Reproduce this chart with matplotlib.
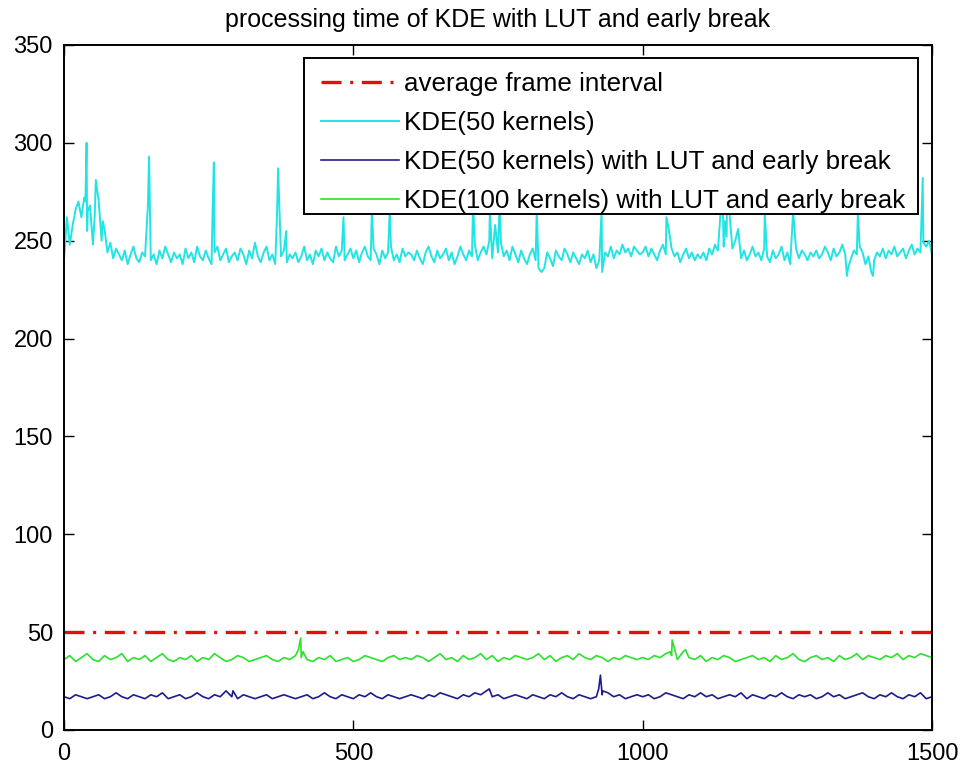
import numpy as np
import matplotlib
matplotlib.use("Agg")
import matplotlib.pyplot as plt
from matplotlib.patches import Rectangle

plt.rcParams['font.family'] = ['Liberation Sans', 'DejaVu Sans']

# ---- data (processing time per frame, ms) ----
frame_interval = 50

# KDE (50 kernels), sampled every 5 frames (0..1500)
kde50_base = [
    240, 262, 248, 258, 266, 270, 262, 272, 255, 268, 248, 262, 270, 250, 256, 244, 249, 241, 246, 243,
    240, 245, 238, 243, 247, 241, 239, 244, 242, 246, 240, 243, 238, 245, 241, 247, 243, 239, 244, 241,
    243, 238, 246, 241, 244, 239, 247, 242, 240, 245, 241, 238, 244, 247, 240, 243, 246, 239, 242, 244,
    240, 246, 243, 238, 245, 241, 249, 242, 239, 244, 247, 240, 243, 238, 246, 242, 245, 239, 243, 241,
    244, 239, 242, 247, 240, 243, 238, 245, 242, 246, 240, 244, 241, 239, 247, 242, 245, 240, 243, 246,
    241, 245, 239, 244, 247, 242, 240, 246, 243, 238, 245, 241, 244, 247, 240, 243, 239, 246, 242, 244,
    243, 240, 245, 241, 238, 244, 247, 242, 239, 245, 241, 243, 246, 240, 244, 238, 242, 247, 243, 240,
    245, 242, 248, 240, 244, 247, 243, 250, 241, 246, 244, 249, 242, 245, 240, 247, 243, 239, 245, 241,
    238, 243, 246, 240, 236, 234, 236, 244, 241, 237, 245, 242, 240, 246, 243, 239, 244, 241, 238, 243,
    241, 245, 239, 243, 236, 240, 234, 244, 242, 247, 241, 245, 243, 248, 244, 246, 242, 247, 245, 243,
    244, 247, 242, 246, 243, 240, 245, 248, 243, 241, 246, 242, 244, 239, 243, 246, 241, 244, 240, 243,
    241, 244, 240, 246, 243, 248, 245, 250, 247, 252, 249, 246, 250, 244, 241, 245, 240, 243, 247, 242,
    244, 240, 246, 242, 239, 245, 241, 243, 247, 240, 244, 238, 242, 246, 241, 245, 243, 240, 244, 242,
    245, 241, 243, 247, 244, 240, 246, 242, 244, 248, 243, 236, 241, 245, 243, 247, 244, 238, 242, 234,
    240, 244, 242, 246, 241, 245, 243, 247, 242, 244, 246, 241, 245, 248, 243, 246, 244, 249, 247, 250,
    243,
]
kde50_peak_frames = [37, 39, 41, 53, 55, 67, 145, 147, 257, 259, 368, 370, 384, 483, 532, 563,
                     707, 736, 745, 753, 817, 929, 1041, 1045, 1135, 1138, 1142, 1146, 1150,
                     1165, 1211, 1260, 1353, 1372, 1398, 1484]
kde50_peak_values = [270, 300, 265, 262, 281, 260, 268, 293, 268, 290, 262, 287, 255, 262, 266, 266,
                     270, 266, 258, 272, 266, 265, 262, 256, 266, 274, 260, 270, 264,
                     256, 264, 265, 232, 265, 232, 282]

# KDE (50 kernels) with LUT and early break, sampled every 10 frames
lut50_base = [
    17, 16, 18, 17, 16, 17, 18, 16, 17, 19, 17, 16, 18, 17, 16, 18, 17, 19, 16, 17,
    18, 16, 17, 19, 17, 16, 18, 17, 20, 17, 16, 18, 17, 16, 17, 18, 16, 17, 18, 17,
    16, 17, 18, 16, 17, 19, 17, 16, 18, 17, 16, 18, 17, 19, 17, 16, 18, 17, 16, 17,
    18, 17, 16, 18, 17, 19, 18, 17, 16, 18, 17, 19, 18, 20, 17, 18, 16, 17, 18, 17,
    16, 18, 17, 16, 18, 17, 19, 17, 16, 18, 17, 16, 17, 18, 19, 17, 18, 16, 17, 18,
    17, 18, 16, 17, 19, 18, 17, 16, 18, 17, 19, 17, 18, 16, 17, 18, 17, 19, 16, 18,
    17, 16, 18, 17, 19, 17, 16, 18, 17, 18, 16, 17, 19, 17, 18, 16, 17, 18, 19, 17,
    16, 18, 17, 19, 17, 16, 18, 17, 19, 16, 17,
]
lut50_peak_frames = [292, 735, 924, 927, 931]
lut50_peak_values = [20, 21, 21, 28, 20]

# KDE (100 kernels) with LUT and early break, sampled every 10 frames
lut100_base = [
    36, 38, 35, 37, 39, 36, 35, 38, 36, 37, 39, 35, 37, 36, 38, 35, 37, 39, 36, 35,
    37, 36, 38, 35, 37, 36, 39, 37, 35, 36, 38, 37, 35, 36, 37, 38, 36, 35, 37, 36,
    38, 37, 36, 35, 37, 36, 38, 35, 36, 37, 35, 36, 38, 37, 36, 35, 37, 38, 36, 37,
    36, 38, 37, 35, 37, 39, 36, 37, 35, 38, 36, 37, 39, 36, 38, 35, 37, 36, 38, 37,
    36, 37, 39, 36, 38, 35, 37, 38, 36, 39, 37, 36, 38, 37, 35, 37, 36, 38, 37, 36,
    37, 36, 38, 37, 39, 38, 36, 40, 37, 36, 38, 35, 37, 36, 38, 37, 35, 36, 37, 38,
    36, 37, 35, 38, 36, 37, 39, 36, 35, 37, 38, 36, 37, 35, 38, 36, 37, 39, 36, 38,
    37, 36, 38, 37, 39, 36, 38, 37, 39, 38, 37,
]
lut100_peak_frames = [405, 409, 413, 1048, 1051, 1074]
lut100_peak_values = [41, 47, 40, 40, 46, 41]

labels = ['average frame interval', 'KDE(50 kernels)',
          'KDE(50 kernels) with LUT and early break',
          'KDE(100 kernels) with LUT and early break']
title = 'processing time of KDE with LUT and early break'
x_ticks = [0, 500, 1000, 1500]
y_ticks = [0, 50, 100, 150, 200, 250, 300, 350]


def with_peaks(step, base, peak_frames, peak_values):
    """Merge regularly sampled frames with isolated peak frames."""
    pts = dict(zip(range(0, step * len(base), step), base))
    pts.update(zip(peak_frames, peak_values))
    frames = sorted(pts)
    return np.array(frames), np.array([pts[f] for f in frames], dtype=float)


x_c, y_c = with_peaks(5, kde50_base, kde50_peak_frames, kde50_peak_values)
x_b, y_b = with_peaks(10, lut50_base, lut50_peak_frames, lut50_peak_values)
x_g, y_g = with_peaks(10, lut100_base, lut100_peak_frames, lut100_peak_values)

# ---- figure ----
fig = plt.figure(figsize=(9.64, 7.67), dpi=100)
ax = fig.add_axes([64 / 964, 37 / 767, 868 / 964, 685 / 767])

ax.plot([x_ticks[0], x_ticks[-1]], [frame_interval, frame_interval], color='#dd1111',
        lw=2.4, linestyle=(0, (6, 2.6, 0.9, 2.6)), label=labels[0])
ax.plot(x_c, y_c, color='#22e4e4', lw=1.4, label=labels[1])
ax.plot(x_b, y_b, color='#1c1c8c', lw=1.2, label=labels[2])
ax.plot(x_g, y_g, color='#2ee02e', lw=1.2, label=labels[3])

ax.set_xlim(0, 1500)
ax.set_ylim(0, 350)
ax.set_xticks(x_ticks)
ax.set_yticks(y_ticks)
ax.tick_params(direction='in', length=7, width=1, top=True, right=True,
               labelsize=17, colors='black')
ax.tick_params(axis='x', pad=9)
ax.tick_params(axis='y', pad=8)
for s in ax.spines.values():
    s.set_linewidth(1.4)

ax.set_title(title, fontsize=18, pad=13)

# legend entries without their own frame; a boxed background is drawn behind them
leg = ax.legend(loc='upper right', bbox_to_anchor=(0.9689, 0.9606), borderaxespad=0,
                fontsize=18.7, frameon=False, handlelength=3.0, handletextpad=0.2,
                labelspacing=0.58, borderpad=0.0)
leg.set_zorder(6)
fig.canvas.draw()
bb = leg.get_window_extent(fig.canvas.get_renderer())
to_ax = ax.transAxes.inverted()
(x0, y0) = to_ax.transform((bb.x0 - 17, bb.y0 - 1))
(x1, y1) = to_ax.transform((bb.x1 + 13, bb.y1 + 14))
ax.add_patch(Rectangle((x0, y0), x1 - x0, y1 - y0, transform=ax.transAxes,
                       facecolor='white', edgecolor='black', lw=1.4,
                       zorder=5, clip_on=False))

fig.savefig('out.png', dpi=100)
